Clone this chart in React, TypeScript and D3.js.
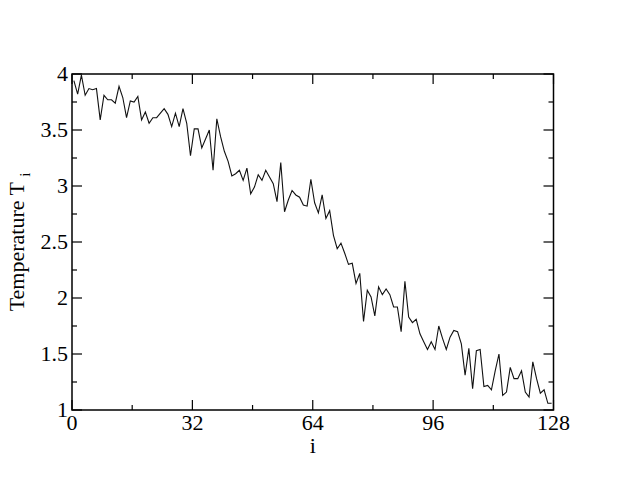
import React, { useEffect, useRef } from "react";
import * as d3 from "d3";

const temperature: number[] = [
  3.94, 3.82, 3.99, 3.81, 3.87, 3.86, 3.87, 3.59, 3.81, 3.77,
  3.77, 3.74, 3.89, 3.79, 3.61, 3.76, 3.75, 3.80, 3.59, 3.66,
  3.56, 3.61, 3.61, 3.65, 3.69, 3.64, 3.53, 3.65, 3.53, 3.69,
  3.56, 3.27, 3.51, 3.51, 3.34, 3.42, 3.50, 3.14, 3.60, 3.44,
  3.31, 3.22, 3.09, 3.11, 3.14, 3.05, 3.16, 2.93, 2.99, 3.10,
  3.05, 3.14, 3.08, 3.02, 2.86, 3.21, 2.77, 2.875, 2.96, 2.92,
  2.90, 2.83, 2.82, 3.06, 2.85, 2.76, 2.92, 2.71, 2.78, 2.56,
  2.44, 2.49, 2.40, 2.30, 2.31, 2.13, 2.22, 1.79, 2.07, 2.01,
  1.84, 2.10, 2.03, 2.08, 2.03, 1.92, 1.92, 1.70, 2.15, 1.83,
  1.78, 1.81, 1.68, 1.61, 1.54, 1.61, 1.54, 1.75, 1.64, 1.54,
  1.65, 1.71, 1.70, 1.59, 1.31, 1.55, 1.19, 1.53, 1.54, 1.21,
  1.22, 1.18, 1.35, 1.50, 1.13, 1.16, 1.38, 1.28, 1.28, 1.35,
  1.16, 1.115, 1.43, 1.28, 1.15, 1.18, 1.06, 1.06,
];

const xMajorTicks: number[] = [0, 32, 64, 96, 128];
const xMinorTicks: number[] = [16, 48, 80, 112];
const yMajorTicks: number[] = [1, 1.5, 2, 2.5, 3, 3.5, 4];
const yMinorTicks: number[] = [1.25, 1.75, 2.25, 2.75, 3.25, 3.75];
const xTickLabels: string[] = ["0", "32", "64", "96", "128"];
const yTickLabels: string[] = ["1", "1.5", "2", "2.5", "3", "3.5", "4"];

const W = 623;
const H = 481;
const L = 72, R = 553.5, T = 74, B = 410;
const FONT = "'Liberation Serif', 'Times New Roman', serif";

export default function App() {
  const ref = useRef<SVGSVGElement>(null);

  useEffect(() => {
    const svg = d3.select(ref.current);
    svg.selectAll("*").remove();

    const x = d3.scaleLinear().domain([0, 128]).range([L, R]);
    const y = d3.scaleLinear().domain([1, 4]).range([B, T]);

    svg.append("rect").attr("width", W).attr("height", H).attr("fill", "#fff");

    const line = d3
      .line<number>()
      .x((_, i) => x(i + 0.5))
      .y((d) => y(d));

    svg
      .append("path")
      .datum(temperature)
      .attr("d", line)
      .attr("fill", "none")
      .attr("stroke", "#111")
      .attr("stroke-width", 1.1);

    const g = svg.append("g").attr("stroke", "#000").attr("stroke-width", 1.2);
    const major = 10, minor = 5;
    xMajorTicks.forEach((t) => {
      g.append("line").attr("x1", x(t)).attr("x2", x(t)).attr("y1", B).attr("y2", B - major);
      g.append("line").attr("x1", x(t)).attr("x2", x(t)).attr("y1", T).attr("y2", T + major);
    });
    xMinorTicks.forEach((t) => {
      g.append("line").attr("x1", x(t)).attr("x2", x(t)).attr("y1", B).attr("y2", B - minor);
      g.append("line").attr("x1", x(t)).attr("x2", x(t)).attr("y1", T).attr("y2", T + minor);
    });
    yMajorTicks.forEach((t) => {
      g.append("line").attr("x1", L).attr("x2", L + major).attr("y1", y(t)).attr("y2", y(t));
      g.append("line").attr("x1", R).attr("x2", R - major).attr("y1", y(t)).attr("y2", y(t));
    });
    yMinorTicks.forEach((t) => {
      g.append("line").attr("x1", L).attr("x2", L + minor).attr("y1", y(t)).attr("y2", y(t));
      g.append("line").attr("x1", R).attr("x2", R - minor).attr("y1", y(t)).attr("y2", y(t));
    });

    svg
      .append("rect")
      .attr("x", L)
      .attr("y", T)
      .attr("width", R - L)
      .attr("height", B - T)
      .attr("fill", "none")
      .attr("stroke", "#000")
      .attr("stroke-width", 1.5);

    xMajorTicks.forEach((t, k) => {
      svg
        .append("text")
        .attr("x", x(t))
        .attr("y", B + 20)
        .attr("text-anchor", "middle")
        .attr("font-family", FONT)
        .attr("font-size", 22)
        .text(xTickLabels[k]);
    });
    yMajorTicks.forEach((t, k) => {
      svg
        .append("text")
        .attr("x", L - 4)
        .attr("y", y(t) + 7)
        .attr("text-anchor", "end")
        .attr("font-family", FONT)
        .attr("font-size", 22)
        .text(yTickLabels[k]);
    });

    svg
      .append("text")
      .attr("x", (L + R) / 2)
      .attr("y", B + 43)
      .attr("text-anchor", "middle")
      .attr("font-family", FONT)
      .attr("font-size", 22)
      .text("i");

    const yt = svg
      .append("text")
      .attr("transform", `translate(24,${(T + B) / 2}) rotate(-90)`)
      .attr("text-anchor", "middle")
      .attr("font-family", FONT)
      .attr("font-size", 22);
    yt.append("tspan").text("Temperature T ");
    yt.append("tspan").attr("dy", 6).attr("font-size", 15).text("i");
  }, []);

  return (
    <svg
      ref={ref}
      width={W}
      height={H}
      style={{ position: "absolute", left: 0, top: 0 }}
    />
  );
}
